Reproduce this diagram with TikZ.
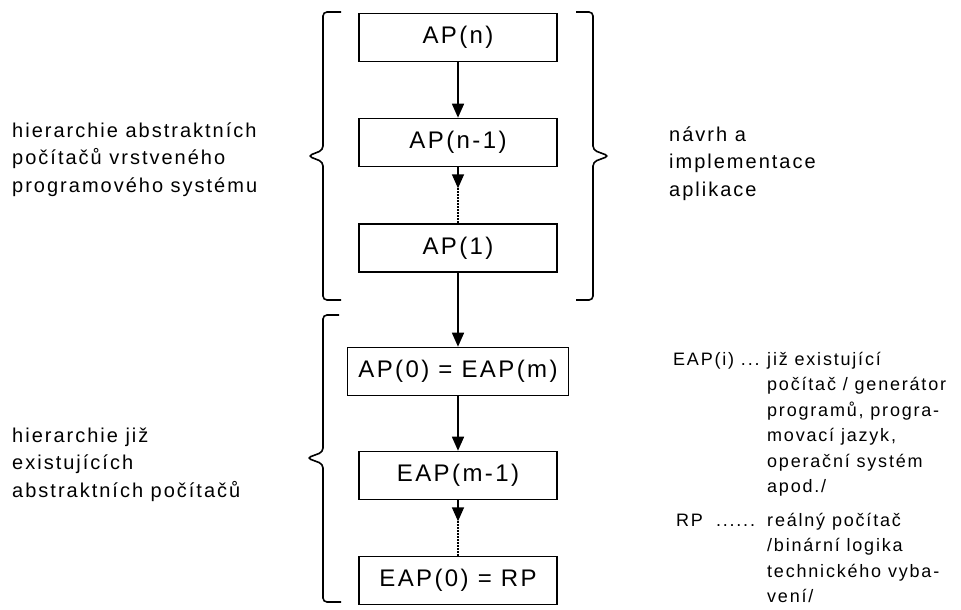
\documentclass[tikz,border=0pt]{standalone}
\usepackage{fontspec}
\setmainfont{Liberation Sans}[LetterSpace=10]
\usetikzlibrary{arrows.meta}

\newcommand*{\boxw}{198pt}
\newcommand*{\boxh}{48pt}

\begin{document}
\begin{tikzpicture}
[
	x=1pt,
	y=-1pt,
	apbox/.style={draw,line width=1.6pt,minimum width=\boxw,minimum height=\boxh,inner sep=0pt,font=\fontsize{24}{28}\selectfont},
	sidetext/.style={anchor=base west,inner sep=0pt,font=\fontsize{20}{27.5}\selectfont},
	legtext/.style={anchor=base west,inner sep=0pt,font=\fontsize{18}{25.5}\selectfont},
	arr/.style={line width=1.6pt,-{Triangle[length=14pt,width=12pt]}},
	dots/.style={line width=1.3pt,dash pattern=on 1.3pt off 1.7pt},
	brace/.style={line width=1.6pt,rounded corners=4pt}
]
	\useasboundingbox (0,0) rectangle (961,610);

	% boxes
	\node[apbox] (apn)  at (458,37.5)  {AP(n)};
	\node[apbox] (apn1) at (458,142.5) {AP(n-1)};
	\node[apbox] (ap1)  at (458,248)   {AP(1)};
	\node[apbox,minimum width=221pt] (ap0) at (458,371.5) {AP(0) = EAP(m)};
	\node[apbox] (eapm1) at (458,475.5) {EAP(m-1)};
	\node[apbox] (eap0)  at (458,580.5) {EAP(0) = RP};

	% arrows
	\draw[arr] (apn) -- (apn1);
	\draw[arr] (apn1.south) -- ++(0,21) coordinate (d1);
	\draw[dots] (d1) -- (ap1.north);
	\draw[arr] (ap1) -- (ap0);
	\draw[arr] (ap0) -- (eapm1);
	\draw[arr] (eapm1.south) -- ++(0,21) coordinate (d2);
	\draw[dots] (d2) -- (eap0.north);

	% braces
	\draw[brace] (341,12) -- (323,12) -- (323,150) -- (308,156) -- (323,162) -- (323,300) -- (341,300);
	\draw[brace] (576,12) -- (593,12) -- (593,150) -- (609,156) -- (593,162) -- (593,300) -- (576,300);
	\draw[brace] (339,315) -- (323,315) -- (323,452) -- (307,458) -- (323,464) -- (323,602) -- (341,602);

	% side labels
	\node[sidetext] (toptext) at (12,137)
	  {\begin{tabular}[t]{@{}l@{}}hierarchie abstraktních\\počítačů vrstveného\\programového systému\end{tabular}};
	\node[sidetext] (bottext) at (12,442)
	  {\begin{tabular}[t]{@{}l@{}}hierarchie již\\existujících\\abstraktních počítačů\end{tabular}};
	\node[sidetext] (apptext) at (669,141)
	  {\begin{tabular}[t]{@{}l@{}}návrh a\\implementace\\aplikace\end{tabular}};

	% legend
	\node[legtext] (legend) at (673,365)
	  {\begin{tabular}[t]{@{}p{94pt}@{}l@{}}
	    EAP(i) ... & již existující\\
	             & počítač / generátor\\
	             & programů, progra-\\
	             & movací jazyk,\\
	             & operační systém\\
	             & apod./\\[8pt]
	    \hspace{3pt}RP\hspace{13pt}...... & reálný počítač\\
	             & /binární logika\\
	             & technického vyba-\\
	             & vení/
	  \end{tabular}};

\end{tikzpicture}
\end{document}
